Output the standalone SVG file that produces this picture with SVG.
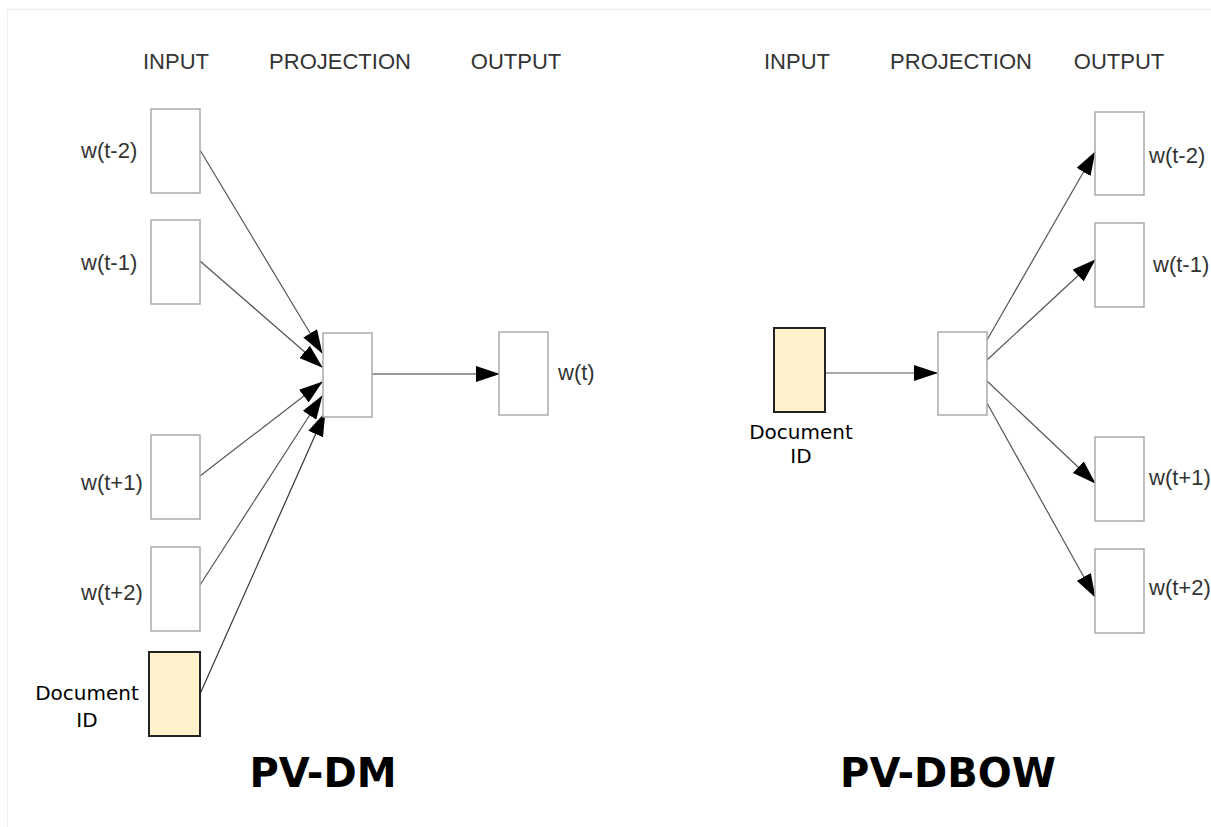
<svg xmlns="http://www.w3.org/2000/svg" width="1211" height="827" viewBox="0 0 1211 827">
<style>
.hdr{font-family:"Liberation Sans",Arial,sans-serif;font-size:22px;fill:#333;text-anchor:middle}
.lbl{font-family:"Liberation Sans",Arial,sans-serif;font-size:22px;fill:#333}
.doc{font-family:"DejaVu Sans",Verdana,sans-serif;font-size:20px;fill:#000;text-anchor:middle}
.title{font-family:"DejaVu Sans",Verdana,sans-serif;font-size:40px;font-weight:bold;fill:#000;text-anchor:middle}
.box{fill:#fff;stroke:#aaa;stroke-width:1.5}
.dbox{fill:#fff2cc;stroke:#222;stroke-width:2}
.edge{stroke:#555;stroke-width:1.2;fill:none;marker-end:url(#ah)}
.edge2{stroke:#333;stroke-width:1.2;fill:none;marker-end:url(#ah)}
</style>
<defs>
<marker id="ah" viewBox="0 0 24 16" refX="23" refY="8" markerWidth="24" markerHeight="16" markerUnits="userSpaceOnUse" orient="auto">
<path d="M0,0 L24,8 L0,16 z" fill="#000"/>
</marker>
</defs>
<rect x="0" y="0" width="1211" height="827" fill="#fff"/>
<path d="M7.5,827 V9.5 H1211" fill="none" stroke="#eee" stroke-width="1"/>

<g id="headers-left">
<text class="hdr" x="176" y="69">INPUT</text>
<text class="hdr" x="340" y="69">PROJECTION</text>
<text class="hdr" x="516" y="69">OUTPUT</text>
</g>
<g id="headers-right">
<text class="hdr" x="797" y="69">INPUT</text>
<text class="hdr" x="961" y="69">PROJECTION</text>
<text class="hdr" x="1119" y="69">OUTPUT</text>
</g>

<g id="connectors">
<line class="edge" x1="200" y1="150" x2="322" y2="353"/>
<line class="edge" x1="200" y1="261" x2="322" y2="367"/>
<line class="edge" x1="200" y1="476" x2="322" y2="382"/>
<line class="edge" x1="200" y1="585" x2="322" y2="396"/>
<line class="edge2" x1="200" y1="694" x2="325" y2="413"/>
<line class="edge2" x1="372" y1="374" x2="499" y2="374"/>
<line class="edge" x1="825" y1="373" x2="937" y2="373"/>
<line class="edge" x1="987" y1="340" x2="1095" y2="152"/>
<line class="edge" x1="987" y1="360" x2="1095" y2="260"/>
<line class="edge" x1="987" y1="381" x2="1095" y2="483"/>
<line class="edge" x1="987" y1="403" x2="1095" y2="597"/>
</g>

<g id="l-wt-2"><rect class="box" x="151" y="109" width="49" height="84"/><text class="lbl" x="81" y="158">w(t-2)</text></g>
<g id="l-wt-1"><rect class="box" x="151" y="220" width="49" height="84"/><text class="lbl" x="81" y="270">w(t-1)</text></g>
<g id="l-wt+1"><rect class="box" x="151" y="435" width="49" height="84"/><text class="lbl" x="81" y="490">w(t+1)</text></g>
<g id="l-wt+2"><rect class="box" x="151" y="547" width="49" height="84"/><text class="lbl" x="81" y="600">w(t+2)</text></g>
<g id="l-doc"><rect class="dbox" x="149" y="652" width="51" height="84"/><text class="doc" x="87" y="700">Document</text><text class="doc" x="87" y="727">ID</text></g>
<g id="l-proj"><rect class="box" x="323" y="333" width="49" height="84"/></g>
<g id="l-wt"><rect class="box" x="499" y="332" width="49" height="83"/><text class="lbl" x="558" y="380">w(t)</text></g>

<g id="r-doc"><rect class="dbox" x="774" y="328" width="51" height="84"/><text class="doc" x="801" y="439">Document</text><text class="doc" x="801" y="463">ID</text></g>
<g id="r-proj"><rect class="box" x="938" y="332" width="49" height="83"/></g>
<g id="r-wt-2"><rect class="box" x="1095" y="112" width="49" height="83"/><text class="lbl" x="1149" y="163">w(t-2)</text></g>
<g id="r-wt-1"><rect class="box" x="1095" y="223" width="49" height="84"/><text class="lbl" x="1153" y="272">w(t-1)</text></g>
<g id="r-wt+1"><rect class="box" x="1095" y="437" width="49" height="84"/><text class="lbl" x="1149" y="485">w(t+1)</text></g>
<g id="r-wt+2"><rect class="box" x="1095" y="549" width="49" height="84"/><text class="lbl" x="1149" y="595">w(t+2)</text></g>

<g id="titles">
<text class="title" x="323" y="787">PV-DM</text>
<text class="title" x="948" y="787">PV-DBOW</text>
</g>
</svg>
